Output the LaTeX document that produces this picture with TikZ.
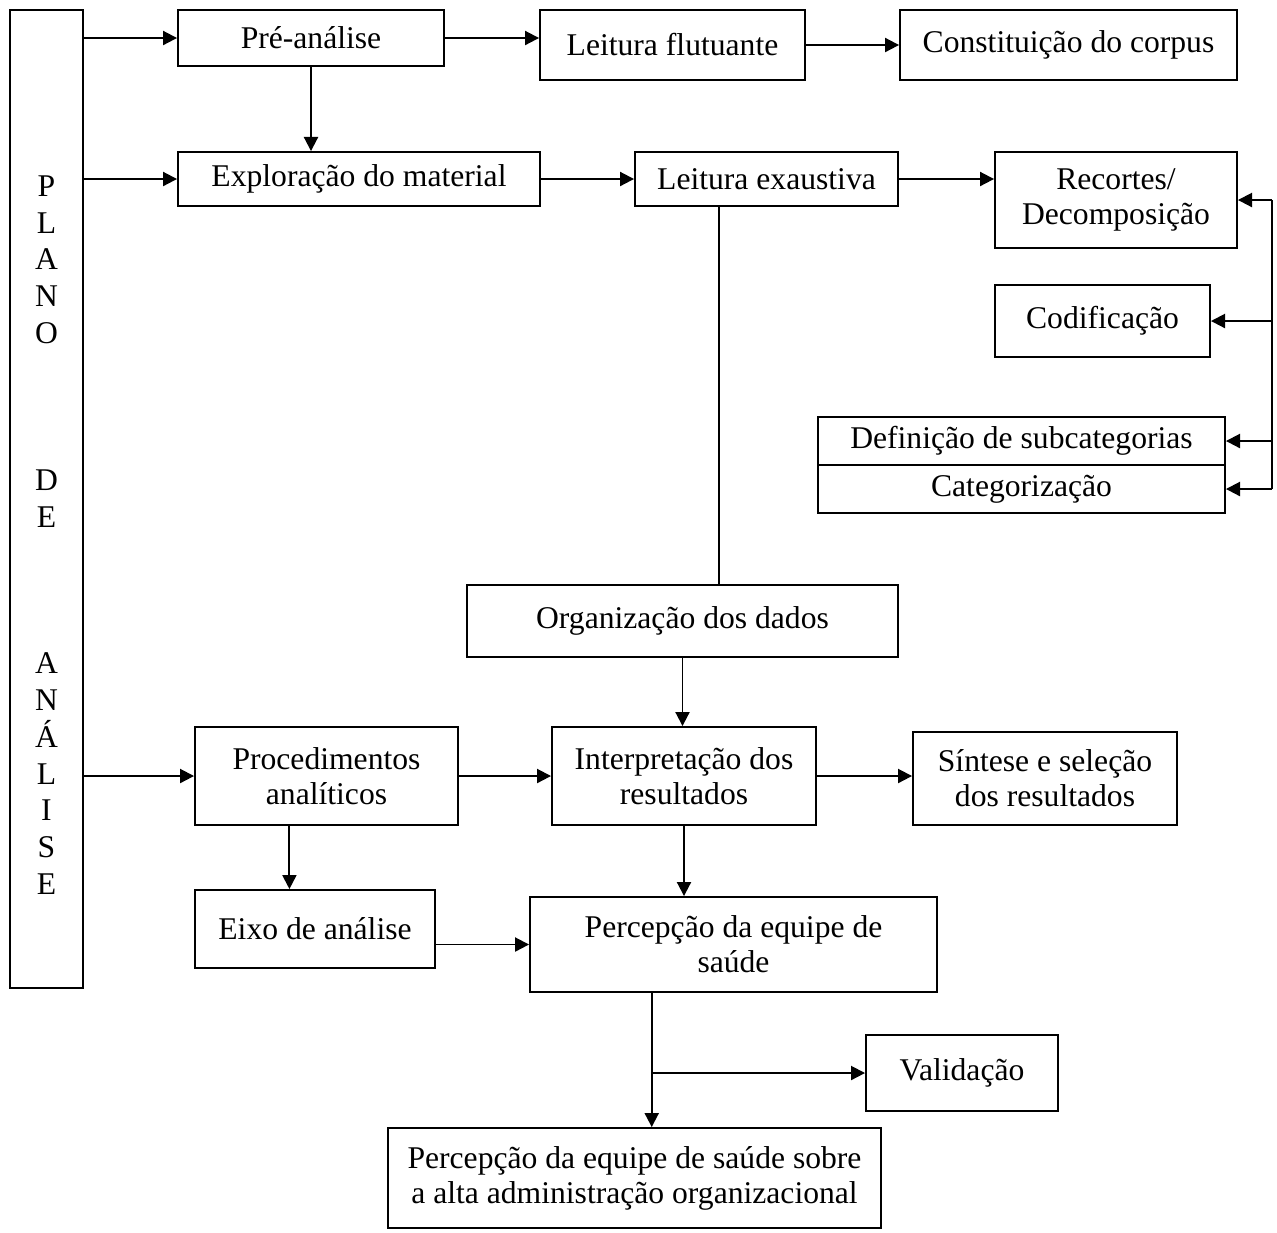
\documentclass[tikz,border=0pt]{standalone}
\usepackage{fontspec}
\setmainfont{Liberation Serif}
\usetikzlibrary{arrows.meta,calc}

\begin{document}
\begin{tikzpicture}[
        x=0.02cm, y=-0.02cm,
        line width=1.1pt,
        box/.style={draw, align=center, inner sep=2pt,
                font=\fontsize{18}{20}\selectfont},
        arr/.style={-{Triangle[length=8pt,width=8pt]}}
    ]
    \useasboundingbox (0,0) rectangle (1277,1232);

    % left column
    \node[draw, minimum width=1.46cm, minimum height=19.56cm] (plano) at (46.5,499) {};
    \node[align=center, font=\fontsize{18}{20.9}\selectfont] (planotxt) at (46.5,535)
        {P\\L\\A\\N\\O\\~\\~\\~\\D\\E\\~\\~\\~\\A\\N\\Á\\L\\I\\S\\E};

    % boxes
    \node[box, minimum width=5.32cm, minimum height=1.12cm] (pre) at (311,38) {Pré-análise};
    \node[box, minimum width=5.30cm, minimum height=1.40cm] (lflu) at (672.5,45) {Leitura flutuante};
    \node[box, minimum width=6.74cm, minimum height=1.40cm] (corpus) at (1068.5,45) {Constituição do corpus};
    \node[box, minimum width=7.24cm, minimum height=1.08cm] (expl) at (359,179) {Exploração do material};
    \node[box, minimum width=5.26cm, minimum height=1.08cm] (lexa) at (766.5,179) {Leitura exaustiva};
    \node[box, minimum width=4.84cm, minimum height=1.92cm] (recor) at (1116,200) {Recortes/\\Decomposição};
    \node[box, minimum width=4.30cm, minimum height=1.44cm] (codif) at (1102.5,321) {Codificação};
    \node[box, minimum width=8.14cm, minimum height=0.96cm] (subcat) at (1021.5,441) {Definição de subcategorias};
    \node[box, minimum width=8.14cm, minimum height=0.96cm] (categ) at (1021.5,489) {Categorização};
    \node[box, minimum width=8.62cm, minimum height=1.44cm] (orga) at (682.5,621) {Organização dos dados};
    \node[box, minimum width=5.26cm, minimum height=1.96cm] (proc) at (326.5,776) {Procedimentos\\analíticos};
    \node[box, minimum width=5.28cm, minimum height=1.96cm] (interp) at (684,776) {Interpretação dos\\resultados};
    \node[box, minimum width=5.28cm, minimum height=1.86cm] (sint) at (1045,778.5) {Síntese e seleção\\dos resultados};
    \node[box, minimum width=4.80cm, minimum height=1.56cm] (eixo) at (315,929) {Eixo de análise};
    \node[box, minimum width=8.14cm, minimum height=1.90cm] (perc) at (733.5,944.5) {Percepção da equipe de\\saúde};
    \node[box, minimum width=3.84cm, minimum height=1.52cm] (valid) at (962,1073) {Validação};
    \node[box, minimum width=9.86cm, minimum height=2.00cm] (final) at (634.5,1178)
        {Percepção da equipe de saúde sobre\\a alta administração organizacional};

    % helper points
    \coordinate (rail) at (1272,200);
    \coordinate (lexdown) at ($(lexa.south west)!0.32!(lexa.south east)$);
    \coordinate (procdown) at ($(proc.south west)!0.36!(proc.south east)$);
    \coordinate (percdown) at ($(perc.south west)!0.3!(perc.south east)$);
    \coordinate (valbranch) at (percdown |- valid.west);

    % connectors
    \draw[arr] (pre.west -| plano.east) -- (pre.west);
    \draw[arr] (expl.west -| plano.east) -- (expl.west);
    \draw[arr] (proc.west -| plano.east) -- (proc.west);
    \draw[arr] (pre.east) -- (pre.east -| lflu.west);
    \draw[arr] (lflu.east) -- (lflu.east -| corpus.west);
    \draw[arr] (pre.south) -- (pre.south |- expl.north);
    \draw[arr] (expl.east) -- (lexa.west);
    \draw[arr] (lexa.east) -- (lexa.east -| recor.west);
    \draw (recor.east -| rail) -- (categ.east -| rail);
    \draw[arr] (recor.east -| rail) -- (recor.east);
    \draw[arr] (codif.east -| rail) -- (codif.east);
    \draw[arr] (subcat.east -| rail) -- (subcat.east);
    \draw[arr] (categ.east -| rail) -- (categ.east);
    \draw (lexdown) -- (lexdown |- orga.north);
    \draw[arr] (orga.south) -- (orga.south |- interp.north);
    \draw[arr] (proc.east) -- (interp.west);
    \draw[arr] (interp.east) -- (interp.east -| sint.west);
    \draw[arr] (procdown) -- (procdown |- eixo.north);
    \draw[arr] (interp.south) -- (interp.south |- perc.north);
    \draw[arr] (perc.west -| eixo.east) -- (perc.west);
    \draw[arr] (percdown) -- (percdown |- final.north);
    \draw[arr] (valbranch) -- (valid.west);
\end{tikzpicture}
\end{document}
